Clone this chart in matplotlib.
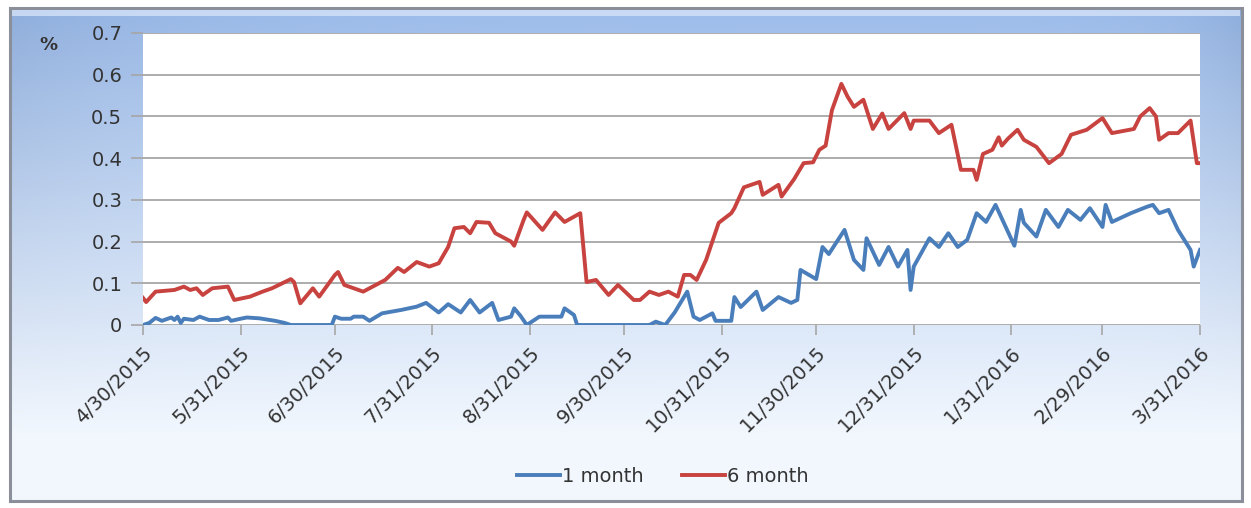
import numpy as np
import pandas as pd
import matplotlib
matplotlib.use('Agg')
import matplotlib.pyplot as plt
from matplotlib.patches import Rectangle

#%%
# values: day offsets from 4/30/2015 and rate in %
start = pd.Timestamp('2015-04-30')

days_1m = [0, 2, 4, 6, 9, 10, 11, 12, 13, 16, 18, 21, 24, 27, 28, 31, 33, 37, 42, 45, 47,
           60, 61, 63, 66, 67, 70, 72, 76, 82, 87, 90, 94, 97, 101, 104, 107, 111, 113,
           117, 118, 120, 122, 126, 133, 134, 137, 138, 161, 163, 166, 169, 173, 175, 177,
           181, 182, 187, 188, 190, 195, 197, 202, 206, 208, 209, 214, 216, 218, 223, 226,
           229, 230, 234, 237, 240, 243, 244, 245, 250, 253, 256, 259, 262, 265, 268, 271,
           277, 279, 280, 284, 287, 291, 294, 298, 301, 305, 306, 308, 314, 319, 321, 323,
           326, 329, 333, 334, 336]
vals_1m = [0.0, 0.005, 0.017, 0.01, 0.018, 0.012, 0.02, 0.005, 0.015, 0.012, 0.02, 0.012,
           0.012, 0.018, 0.01, 0.015, 0.018, 0.016, 0.01, 0.005, 0.0,
           0.0, 0.02, 0.015, 0.015, 0.02, 0.02, 0.01, 0.028, 0.036, 0.044, 0.053, 0.03,
           0.05, 0.03, 0.06, 0.03, 0.053, 0.012, 0.02, 0.04, 0.022, 0.0, 0.02, 0.02, 0.04,
           0.024, 0.0, 0.0, 0.008, 0.0, 0.03, 0.08, 0.02, 0.012, 0.028, 0.01, 0.01, 0.067,
           0.043, 0.08, 0.036, 0.067, 0.053, 0.06, 0.132, 0.11, 0.187, 0.17, 0.228, 0.156,
           0.132, 0.208, 0.144, 0.187, 0.14, 0.18, 0.084, 0.14, 0.208, 0.187, 0.22, 0.187,
           0.204, 0.268, 0.247, 0.288, 0.19, 0.276, 0.245, 0.212, 0.276, 0.235, 0.276, 0.252,
           0.28, 0.235, 0.288, 0.247, 0.268, 0.283, 0.288, 0.268, 0.276, 0.228, 0.18, 0.14,
           0.18]

days_6m = [0, 1, 4, 10, 13, 15, 17, 19, 22, 27, 29, 34, 38, 41, 47, 48, 50, 54, 56, 61, 62,
           64, 70, 77, 81, 83, 87, 91, 94, 97, 99, 102, 104, 106, 110, 112, 117, 118, 121,
           122, 127, 131, 134, 139, 141, 144, 148, 151, 156, 158, 161, 164, 167, 170, 172,
           174, 176, 179, 183, 187, 188, 191, 196, 197, 202, 203, 207, 210, 213, 215, 217,
           219, 222, 224, 226, 229, 232, 235, 237, 242, 244, 245, 250, 253, 257, 260, 264,
           265, 267, 270, 272, 273, 275, 278, 280, 284, 288, 292, 295, 300, 305, 308, 315,
           317, 320, 322, 323, 326, 329, 333, 335, 336]
vals_6m = [0.065, 0.055, 0.08, 0.084, 0.092, 0.084, 0.088, 0.072, 0.088, 0.092, 0.06, 0.068,
           0.08, 0.088, 0.11, 0.103, 0.052, 0.088, 0.068, 0.12, 0.127, 0.096, 0.08, 0.108,
           0.137, 0.127, 0.151, 0.14, 0.148, 0.187, 0.232, 0.235, 0.22, 0.247, 0.245, 0.22,
           0.2, 0.19, 0.252, 0.27, 0.228, 0.27, 0.247, 0.268, 0.103, 0.108, 0.072, 0.096,
           0.06, 0.06, 0.08, 0.072, 0.08, 0.068, 0.12, 0.12, 0.108, 0.156, 0.245, 0.268,
           0.28, 0.33, 0.343, 0.312, 0.336, 0.308, 0.35, 0.388, 0.39, 0.42, 0.43, 0.515,
           0.578, 0.547, 0.523, 0.54, 0.47, 0.507, 0.47, 0.508, 0.47, 0.49, 0.49, 0.46,
           0.48, 0.372, 0.372, 0.348, 0.41, 0.42, 0.45, 0.43, 0.447, 0.468, 0.444, 0.427,
           0.388, 0.41, 0.456, 0.468, 0.496, 0.46, 0.47, 0.5, 0.52, 0.5, 0.444, 0.46, 0.46,
           0.49, 0.388, 0.388]

series_names = ['1 month', '6 month']
series_colors = ['#4a7ebb', '#c8433f']
y_ticks = [0, 0.1, 0.2, 0.3, 0.4, 0.5, 0.6, 0.7]
tick_dates = pd.date_range('2015-04-30', '2016-03-31', freq='ME')

#%%
W, H = 1251, 508
fig = plt.figure(figsize=(W / 100, H / 100), dpi=100)
fig.patch.set_facecolor('white')

# blue gradient frame behind the chart
bg = fig.add_axes([0, 0, 1, 1], zorder=-1)
bg.set_xlim(0, W)
bg.set_ylim(H, 0)
bg.set_axis_off()
yy, xx = np.mgrid[0:1:200j, 0:1:400j]
top = np.array([0.62, 0.74, 0.92])
bot = np.array([0.95, 0.97, 0.995])
t = np.clip(yy * 1.15, 0, 1)[..., None]
grad = top * (1 - t) + bot * t
edge = (np.exp(-xx / 0.12) + np.exp(-(1 - xx) / 0.05))[..., None] * (1 - t) * 0.06
grad = np.clip(grad - edge, 0, 1)
bg.imshow(grad, extent=(10, 1242, 501, 8), aspect='auto', interpolation='bilinear')
bg.add_patch(Rectangle((10, 8), 1232, 493, fill=False, ec='#8a8f99', lw=2.2))
bg.add_patch(Rectangle((12, 10), 1228, 6, fc='#d3e2f7', ec='none', alpha=0.8))

ax = fig.add_axes([143 / W, 1 - 325 / H, 1057 / W, 292 / H])
ax.set_facecolor('white')

dates_1m = start + pd.to_timedelta(days_1m, unit='D')
dates_6m = start + pd.to_timedelta(days_6m, unit='D')
ax.plot(dates_1m, vals_1m, color=series_colors[0], lw=2.8, label=series_names[0],
        solid_joinstyle='round')
ax.plot(dates_6m, vals_6m, color=series_colors[1], lw=2.8, label=series_names[1],
        solid_joinstyle='round')

ax.set_xlim(tick_dates[0], tick_dates[-1])
ax.set_ylim(0, 0.7)
ax.set_yticks(y_ticks)
ax.set_yticklabels(['0'] + [f'{v:.1f}' for v in y_ticks[1:]])
ax.set_xticks(tick_dates)
ax.set_xticklabels([f'{d.month}/{d.day}/{d.year}' for d in tick_dates],
                   rotation=45, ha='right', rotation_mode='anchor')
ax.grid(axis='y', color='#a6a6a6', lw=1.3)
ax.set_axisbelow(True)
for s in ax.spines.values():
    s.set_visible(False)
ax.tick_params(axis='y', length=9, width=1.2, color='#a6a6a6', labelsize=14,
               labelcolor='#333333', pad=6)
ax.tick_params(axis='x', length=7, width=1.2, color='#a6a6a6', labelsize=14,
               labelcolor='#333333', pad=6)

fig.text(48 / W, 1 - 45 / H, '%', fontsize=13, fontweight='bold', color='#333333',
         ha='center', va='center')

ax.legend(loc='center', bbox_to_anchor=(0.53, 1 - 476 / H), bbox_transform=fig.transFigure,
          ncol=2, frameon=False, fontsize=14, handlelength=2.2, handletextpad=0.1,
          columnspacing=2.0, labelcolor='#333333')

fig.savefig('out.png', dpi=100)
